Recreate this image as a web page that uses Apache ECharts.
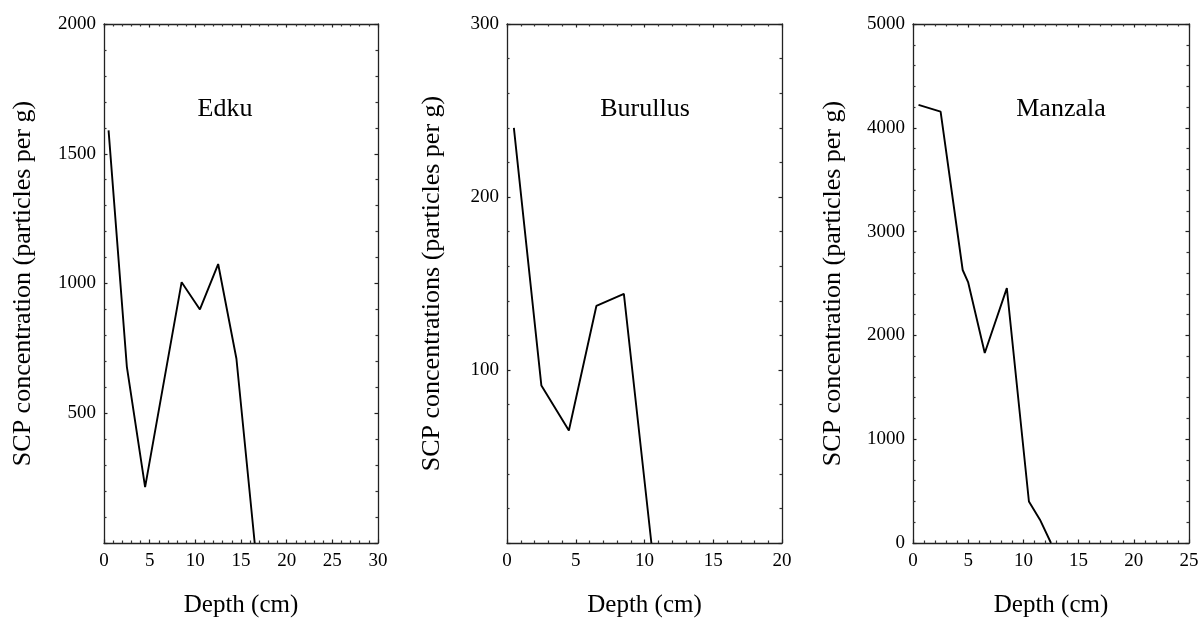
<!DOCTYPE html>
<html>
<head>
<meta charset="utf-8">
<script src="https://cdn.jsdelivr.net/npm/echarts@6/dist/echarts.min.js"></script>
<style>
html,body{margin:0;padding:0;background:#fff;}
#c{width:1203px;height:619px;}
</style>
</head>
<body>
<div id="c"></div>
<script>
// ---- data ----
const depthEdku = [0.5, 2.5, 4.5, 8.5, 10.5, 12.5, 14.5, 16.5];
const scpEdku   = [1590, 680, 215, 1005, 900, 1075, 710, 0];

const depthBurullus = [0.5, 2.5, 4.5, 6.5, 8.5, 10.5];
const scpBurullus   = [240, 91, 65, 137, 144, 0];

const depthManzala = [0.5, 2.5, 4.5, 5, 6.5, 8.5, 10.5, 11.5, 12.5];
const scpManzala   = [4220, 4155, 2630, 2510, 1830, 2455, 400, 225, 0];

const panelTitles = ['Edku', 'Burullus', 'Manzala'];
const yAxisNames = [
  'SCP concentration (particles per g)',
  'SCP concentrations (particles per g)',
  'SCP concentration (particles per g)'
];
const xAxisName = 'Depth (cm)';
const xMaxes = [30, 20, 25];
const yMaxes = [2000, 300, 5000];
const yIntervals = [500, 100, 1000];
const xInterval = 5;
const hideZeroY = [true, true, false];

const depths = [depthEdku, depthBurullus, depthManzala];
const values = [scpEdku, scpBurullus, scpManzala];

// ---- layout / style ----
const FONT = '"Liberation Serif", "Times New Roman", serif';
const gridBoxes = [
  {left: 104, width: 274},
  {left: 507, width: 275},
  {left: 913, width: 276}
];
const titleCenters = [225, 645, 1061];
const yNameGaps = [68, 62, 67];
const AX = '#222';

const grids = [], xAxes = [], yAxes = [], series = [], titles = [];

for (let i = 0; i < 3; i++) {
  grids.push({left: gridBoxes[i].left, width: gridBoxes[i].width, top: 24, height: 519,
              containLabel: false, outerBoundsMode: 'none'});
  ['bottom', 'top'].forEach(pos => {
    const main = pos === 'bottom';
    xAxes.push({
      type: 'value', gridIndex: i, position: pos, min: 0, max: xMaxes[i], interval: xInterval,
      axisLine: {show: true, onZero: false, lineStyle: {color: AX, width: 1.3}},
      axisTick: {show: true, inside: true, length: 3.5, lineStyle: {color: AX, width: 1.2}},
      minorTick: {show: true, splitNumber: 5, length: 2.5, lineStyle: {color: '#333', width: 1.2}},
      splitLine: {show: false}, minorSplitLine: {show: false},
      axisLabel: {show: main, margin: 9, color: '#000', fontFamily: FONT, fontSize: 19},
      name: main ? xAxisName : '', nameLocation: 'middle', nameGap: 50,
      nameTextStyle: {fontFamily: FONT, fontSize: 25, color: '#000'}
    });
  });
  ['left', 'right'].forEach(pos => {
    const main = pos === 'left';
    yAxes.push({
      type: 'value', gridIndex: i, position: pos, min: 0, max: yMaxes[i], interval: yIntervals[i],
      axisLine: {show: true, onZero: false, lineStyle: {color: AX, width: 1.3}},
      axisTick: {show: true, inside: true, length: 3.5, lineStyle: {color: AX, width: 1.2}},
      minorTick: {show: true, splitNumber: 5, length: 2.5, lineStyle: {color: '#333', width: 1.2}},
      splitLine: {show: false}, minorSplitLine: {show: false},
      axisLabel: {show: main, margin: 8, color: '#000', fontFamily: FONT, fontSize: 19,
                  formatter: v => (hideZeroY[i] && v === 0) ? '' : String(v)},
      name: main ? yAxisNames[i] : '', nameLocation: 'middle', nameRotate: 90, nameGap: yNameGaps[i],
      nameTextStyle: {fontFamily: FONT, fontSize: 26, color: '#000'}
    });
  });
  series.push({
    type: 'line', xAxisIndex: 2 * i, yAxisIndex: 2 * i,
    data: depths[i].map((d, k) => [d, values[i][k]]),
    showSymbol: false, symbol: 'none', animation: false,
    lineStyle: {color: '#000', width: 1.9}
  });
  titles.push({
    text: panelTitles[i], left: titleCenters[i], top: 96, textAlign: 'center', padding: 0,
    textStyle: {fontFamily: FONT, fontSize: 26, fontWeight: 'normal', color: '#000'}
  });
}

const chart = echarts.init(document.getElementById('c'), null, {renderer: 'canvas'});
chart.setOption({
  backgroundColor: '#fff',
  animation: false,
  title: titles,
  grid: grids,
  xAxis: xAxes,
  yAxis: yAxes,
  series: series
});
</script>
</body>
</html>
